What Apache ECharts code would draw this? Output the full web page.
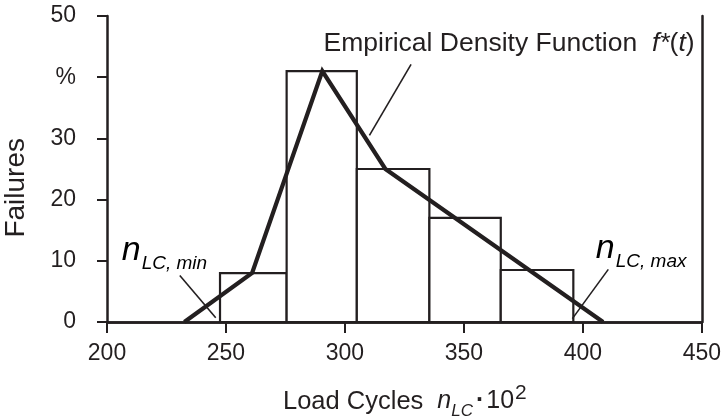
<!DOCTYPE html>
<html>
<head>
<meta charset="utf-8">
<script src="https://cdn.jsdelivr.net/npm/echarts@6/dist/echarts.min.js"></script>
<style>
  html, body { margin: 0; padding: 0; background: #fff; }
  #chart { width: 724px; height: 417px; }
</style>
</head>
<body>
<div id="chart"></div>
<script>
// Histogram classes (load cycles x 10^2) and failure shares in %
const binEdges = [247.5, 275.5, 305, 335.5, 365.5, 396];
const failures = [8, 41, 25, 17, 8.5];

// Empirical density function f*(t) polygon
const densityX = [232.5, 261, 290.5, 317, 408.5];
const densityY = [0, 8, 41, 25, 0];

// Axis ticks
const xTicks = [200, 250, 300, 350, 400, 450];
const yTicks = [0, 10, 20, 30, 40, 50];
const yTickLabels = ['0', '10', '20', '30', '%', '50'];

// Leader lines for the annotations (data coordinates)
const leaderDensity = [[327.8, 42.1], [310.3, 30.5]];
const leaderMin = [[230.6, 7.6], [245.7, 0.7]];
const leaderMax = [[410.7, 8.6], [395.6, 0.55]];

// Annotation anchors (data coordinates)
const anchorDensity = [291, 45.4];
const anchorMin = [206.2, 10.3];
const anchorMax = [410.5, 10.3];

const INK = '#231f20';
const FONT = '"Liberation Sans", Arial, Helvetica, sans-serif';

const chart = echarts.init(document.getElementById('chart'), null, { renderer: 'canvas' });

const bins = failures.map((v, i) => [binEdges[i], binEdges[i + 1], v]);
const density = densityX.map((x, i) => [x, densityY[i]]);

function leaderSeries(pts) {
  return {
    type: 'line', data: pts, symbol: 'none', silent: true, z: 4,
    lineStyle: { color: INK, width: 1.6 }, animation: false
  };
}

const option = {
  animation: false,
  backgroundColor: '#fff',
  grid: { left: 107, right: 21, top: 16, bottom: 95 },
  xAxis: [{
    type: 'value', min: xTicks[0], max: xTicks[xTicks.length - 1], interval: 50,
    axisLine: { show: true, lineStyle: { color: INK, width: 2.5 } },
    axisTick: { show: true, length: 11, lineStyle: { color: INK, width: 2 } },
    axisLabel: { color: INK, fontSize: 23, fontFamily: FONT, margin: 20 },
    splitLine: { show: false }
  }, {
    type: 'value', position: 'top', min: xTicks[0], max: xTicks[xTicks.length - 1],
    axisLine: { show: true, lineStyle: { color: INK, width: 2.5 } },
    axisTick: { show: false }, axisLabel: { show: false }, splitLine: { show: false }
  }],
  yAxis: [{
    type: 'value', min: yTicks[0], max: yTicks[yTicks.length - 1], interval: 10,
    axisLine: { show: true, lineStyle: { color: INK, width: 2.5 } },
    axisTick: { show: true, length: 10, lineStyle: { color: INK, width: 2 } },
    axisLabel: {
      color: INK, fontSize: 23, fontFamily: FONT, margin: 31,
      formatter: v => yTickLabels[yTicks.indexOf(v)]
    },
    splitLine: { show: false }
  }, {
    type: 'value', position: 'right', min: yTicks[0], max: yTicks[yTicks.length - 1],
    axisLine: { show: true, lineStyle: { color: INK, width: 2.5 } },
    axisTick: { show: false }, axisLabel: { show: false }, splitLine: { show: false }
  }],
  series: [
    {
      type: 'custom', data: bins, z: 2,
      renderItem: function (params, api) {
        const p0 = api.coord([api.value(0), api.value(2)]);
        const p1 = api.coord([api.value(1), 0]);
        return {
          type: 'rect',
          shape: { x: p0[0], y: p0[1], width: p1[0] - p0[0], height: p1[1] - p0[1] },
          style: { fill: '#fff', stroke: INK, lineWidth: 2.2 }
        };
      }
    },
    {
      type: 'line', data: density, symbol: 'none', z: 5,
      lineStyle: { color: INK, width: 4.2, join: 'miter' }
    },
    leaderSeries(leaderDensity),
    leaderSeries(leaderMin),
    leaderSeries(leaderMax)
  ]
};

chart.setOption(option);

function px(pt) { return chart.convertToPixel({ gridIndex: 0 }, pt); }

const pD = px(anchorDensity), pMin = px(anchorMin), pMax = px(anchorMax);
const subRich = {
  n: { fontSize: 34, fontStyle: 'italic', fontFamily: FONT, color: INK },
  s: { fontSize: 19, fontStyle: 'italic', fontFamily: FONT, color: INK, padding: [26, 0, 0, 1] }
};

chart.setOption({
  graphic: [
    {
      type: 'text', left: pD[0], top: pD[1] - 14,
      style: {
        text: 'Empirical Density Function  {i|f}{i|*}{r|(}{i|t}{r|)}',
        fill: INK, font: '26.5px ' + FONT,
        rich: {
          i: { fontSize: 26.5, fontStyle: 'italic', fontFamily: FONT, color: INK },
          r: { fontSize: 26.5, fontFamily: FONT, color: INK }
        }
      }
    },
    {
      type: 'text', left: pMin[0], top: pMin[1] - 25,
      style: { text: '{n|n}{s|LC, min}', rich: subRich }
    },
    {
      type: 'text', left: pMax[0] - 12, top: pMax[1] - 27,
      style: { text: '{n|n}{s|LC, max}', rich: subRich }
    },
    {
      type: 'text', left: 2, top: 138, rotation: Math.PI / 2,
      style: { text: 'Failures', fill: INK, font: '28px ' + FONT }
    },
    {
      type: 'text', left: 283, top: 383,
      style: {
        text: '{t|Load Cycles}{n|n}{s|LC}{d|·}{m|10}{p|2}',
        fill: INK, font: '25px ' + FONT,
        rich: {
          t: { fontSize: 25.5, fontFamily: FONT, color: INK },
          n: { fontSize: 25, fontStyle: 'italic', fontFamily: FONT, color: INK, padding: [0, 0, 0, 14] },
          s: { fontSize: 17, fontStyle: 'italic', fontFamily: FONT, color: INK, padding: [20, 0, 0, 0] },
          d: { fontSize: 25, fontWeight: 'bold', fontFamily: FONT, color: INK, padding: [0, 2, 0, 3] },
          m: { fontSize: 25, fontFamily: FONT, color: INK },
          p: { fontSize: 21, fontFamily: FONT, color: INK, padding: [0, 0, 16, 1] }
        }
      }
    }
  ]
});
</script>
</body>
</html>
